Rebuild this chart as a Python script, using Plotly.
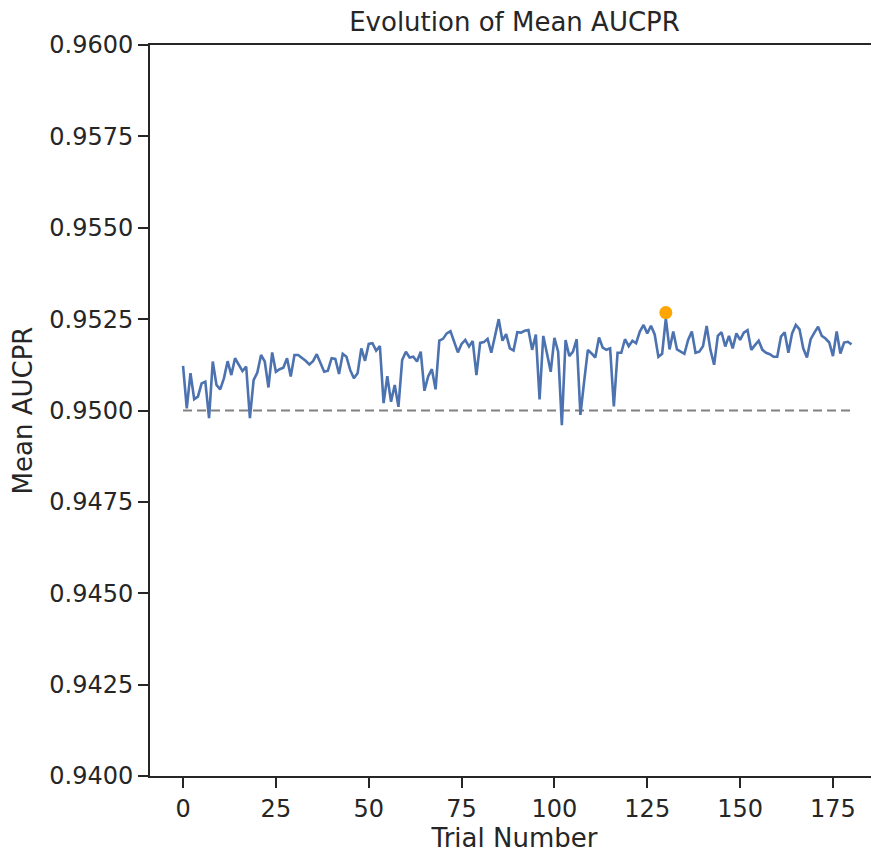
import plotly.graph_objects as go

# Mean AUCPR per optimisation trial
trials = list(range(181))
mean_aucpr = [
    0.95122, 0.95006, 0.95102, 0.95031, 0.95038, 0.95074, 0.95079, 0.94979, 0.95134, 0.95070,
    0.95058, 0.95088, 0.95135, 0.95097, 0.95143, 0.95124, 0.95108, 0.95120, 0.94979, 0.95083,
    0.95104, 0.95152, 0.95134, 0.95063, 0.95159, 0.95106, 0.95113, 0.95117, 0.95143, 0.95093,
    0.95152, 0.95152, 0.95145, 0.95136, 0.95126, 0.95135, 0.95154, 0.95131, 0.95106, 0.95109,
    0.95143, 0.95141, 0.95100, 0.95155, 0.95147, 0.95111, 0.95088, 0.95102, 0.95170, 0.95136,
    0.95182, 0.95184, 0.95164, 0.95176, 0.95020, 0.95094, 0.95024, 0.95070, 0.95010, 0.95138,
    0.95161, 0.95145, 0.95147, 0.95134, 0.95161, 0.95054, 0.95093, 0.95113, 0.95058, 0.95191,
    0.95196, 0.95211, 0.95217, 0.95188, 0.95159, 0.95182, 0.95193, 0.95175, 0.95190, 0.95097,
    0.95185, 0.95187, 0.95196, 0.95158, 0.95202, 0.95250, 0.95191, 0.95209, 0.95170, 0.95164,
    0.95214, 0.95213, 0.95218, 0.95220, 0.95166, 0.95208, 0.95030, 0.95204, 0.95156, 0.95106,
    0.95199, 0.95161, 0.94960, 0.95193, 0.95149, 0.95161, 0.95195, 0.94988, 0.95079, 0.95166,
    0.95156, 0.95145, 0.95200, 0.95172, 0.95166, 0.95170, 0.95011, 0.95158, 0.95158, 0.95195,
    0.95176, 0.95191, 0.95184, 0.95216, 0.95234, 0.95211, 0.95232, 0.95208, 0.95147, 0.95155,
    0.95252, 0.95167, 0.95216, 0.95167, 0.95161, 0.95155, 0.95193, 0.95216, 0.95158, 0.95161,
    0.95176, 0.95231, 0.95166, 0.95125, 0.95204, 0.95214, 0.95175, 0.95204, 0.95170, 0.95211,
    0.95193, 0.95213, 0.95220, 0.95166, 0.95179, 0.95191, 0.95166, 0.95158, 0.95154, 0.95147,
    0.95147, 0.95202, 0.95214, 0.95158, 0.95211, 0.95234, 0.95222, 0.95170, 0.95145, 0.95195,
    0.95213, 0.95229, 0.95204, 0.95197, 0.95186, 0.95149, 0.95216, 0.95156, 0.95186, 0.95188,
    0.95181,
]

best_trial = [130]
best_value = [0.95268]

baseline_x = [0, 180]
baseline_y = [0.95, 0.95]

y_ticks = [0.94, 0.9425, 0.945, 0.9475, 0.95, 0.9525, 0.955, 0.9575, 0.96]
y_tick_text = ["0.9400", "0.9425", "0.9450", "0.9475", "0.9500", "0.9525", "0.9550", "0.9575", "0.9600"]
x_ticks = [0, 25, 50, 75, 100, 125, 150, 175]

TEXT = "#262626"
FONT = "DejaVu Sans"

fig = go.Figure()

fig.add_trace(go.Scatter(x=baseline_x, y=baseline_y, mode="lines",
                         line=dict(color="#808080", width=2, dash="9px,5px"),
                         showlegend=False, hoverinfo="skip"))
fig.add_trace(go.Scatter(x=trials, y=mean_aucpr, mode="lines",
                         line=dict(color="#4c72b0", width=2.6),
                         showlegend=False))
fig.add_trace(go.Scatter(x=best_trial, y=best_value, mode="markers",
                         marker=dict(color="#ffa500", size=13),
                         showlegend=False))

# the page body adds an 8px margin, so the figure is 8px smaller than the window
fig.update_layout(
    width=871, height=845,
    margin=dict(l=142, r=0, t=37, b=77),
    plot_bgcolor="white", paper_bgcolor="white",
    font=dict(family=FONT, color=TEXT, size=24),
    title=dict(text="Evolution of Mean AUCPR", x=0.5, xref="paper", xanchor="center",
               y=0.983, yref="container", yanchor="middle", font=dict(size=26, color=TEXT)),
)

fig.update_xaxes(
    range=[-8.9, 187.4], tickvals=x_ticks, showgrid=False, zeroline=False,
    showline=True, linecolor=TEXT, linewidth=1.8, mirror=True,
    ticks="outside", ticklen=10, tickwidth=1.8, tickcolor=TEXT,
    tickfont=dict(size=24, color=TEXT), automargin=False,
    title=dict(text="Trial Number", font=dict(size=26, color=TEXT), standoff=6),
)
fig.update_yaxes(
    range=[0.94, 0.96], tickvals=y_ticks, ticktext=y_tick_text,
    showgrid=False, zeroline=False,
    showline=True, linecolor=TEXT, linewidth=1.8,
    ticks="outside", ticklen=10, tickwidth=1.8, tickcolor=TEXT,
    tickfont=dict(size=24, color=TEXT), automargin=False,
    title=dict(text="Mean AUCPR", font=dict(size=26, color=TEXT), standoff=10),
)

fig.write_html("out.html")
